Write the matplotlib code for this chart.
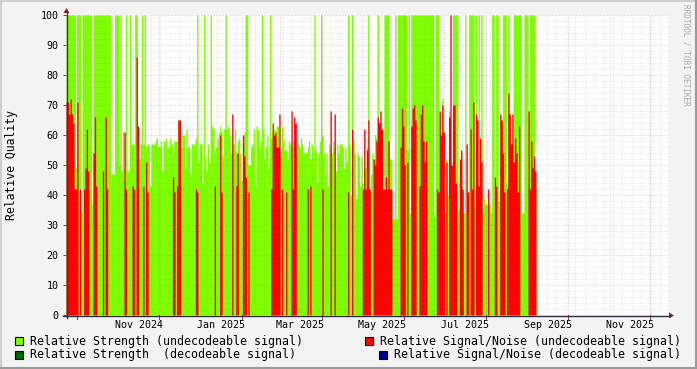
import numpy as np
import matplotlib
matplotlib.use("Agg")
import matplotlib.pyplot as plt
import matplotlib.dates as mdates
from datetime import datetime, timedelta

# ---------- data (one value per day, first day 2024-09-23) ----------
first_day = datetime(2024, 9, 23)

strength = [
    100, 100, 100, 100, 100, 100, 100, 49, 100, 100,
    100, 34, 100, 100, 100, 100, 100, 100, 100, 37,
    100, 100, 100, 100, 100, 100, 100, 100, 100, 100,
    100, 100, 100, 47, 47, 47, 100, 100, 100, 50,
    100, 48, 61, 45, 100, 48, 48, 100, 57, 57,
    57, 100, 100, 52, 52, 57, 100, 57, 100, 56,
    57, 57, 43, 57, 57, 57, 58, 59, 56, 56,
    58, 48, 58, 58, 59, 56, 56, 59, 57, 54,
    58, 58, 58, 65, 65, 56, 60, 60, 49, 62,
    56, 56, 47, 57, 57, 57, 59, 100, 51, 57,
    57, 44, 100, 53, 48, 57, 51, 100, 63, 62,
    54, 56, 59, 61, 63, 61, 53, 62, 100, 62,
    63, 60, 54, 57, 57, 62, 54, 58, 59, 54,
    45, 57, 61, 100, 100, 50, 50, 56, 57, 62,
    43, 63, 62, 56, 58, 100, 62, 52, 56, 60,
    49, 100, 59, 61, 62, 58, 63, 63, 54, 53,
    63, 58, 55, 55, 52, 58, 57, 56, 58, 56,
    54, 57, 57, 56, 59, 57, 54, 54, 54, 56,
    58, 52, 57, 54, 100, 55, 44, 54, 58, 100,
    60, 54, 47, 54, 43, 57, 56, 54, 58, 56,
    48, 57, 54, 57, 57, 56, 49, 56, 51, 100,
    57, 40, 100, 58, 54, 39, 54, 53, 43, 53,
    44, 49, 49, 56, 100, 36, 47, 54, 52, 60,
    59, 100, 40, 64, 62, 34, 100, 100, 100, 100,
    52, 52, 32, 32, 100, 32, 100, 100, 100, 100,
    100, 100, 100, 55, 100, 34, 100, 100, 100, 100,
    100, 100, 100, 100, 100, 100, 100, 100, 100, 100,
    100, 100, 100, 33, 100, 100, 100, 36, 36, 72,
    36, 34, 52, 40, 68, 34, 40, 100, 100, 100,
    100, 35, 45, 45, 34, 34, 100, 34, 34, 100,
    100, 100, 100, 36, 100, 36, 100, 39, 100, 34,
    39, 37, 37, 37, 37, 34, 100, 100, 34, 100,
    100, 38, 50, 41, 100, 100, 100, 44, 100, 43,
    44, 45, 100, 100, 100, 100, 100, 100, 34, 34,
    100, 100, 100, 44, 100, 100, 100, 100, 45,
]

snr = [
    71, 71, 67, 72, 67, 64, 42, 42, 71, 0,
    42, 0, 0, 42, 49, 62, 48, 0, 0, 0,
    54, 66, 43, 0, 0, 0, 0, 48, 0, 66,
    42, 0, 0, 0, 0, 0, 0, 0, 0, 0,
    0, 0, 0, 61, 42, 0, 0, 0, 0, 43,
    42, 0, 86, 63, 0, 0, 0, 43, 0, 51,
    41, 0, 0, 0, 0, 0, 0, 0, 0, 0,
    0, 0, 0, 0, 0, 0, 0, 0, 0, 46,
    41, 0, 43, 65, 65, 0, 0, 0, 0, 0,
    0, 0, 0, 0, 0, 0, 42, 41, 0, 0,
    0, 0, 0, 0, 0, 0, 0, 0, 0, 0,
    43, 0, 0, 0, 60, 41, 0, 0, 0, 0,
    0, 0, 0, 67, 0, 0, 43, 54, 0, 0,
    0, 60, 53, 46, 0, 41, 0, 0, 0, 0,
    0, 0, 0, 0, 0, 0, 0, 0, 0, 0,
    0, 0, 42, 64, 60, 61, 56, 56, 67, 0,
    42, 0, 0, 41, 0, 0, 0, 68, 42, 66,
    64, 0, 0, 0, 0, 0, 0, 0, 0, 42,
    0, 43, 0, 0, 0, 0, 0, 0, 0, 0,
    42, 0, 0, 0, 0, 0, 68, 0, 0, 67,
    0, 0, 0, 0, 0, 0, 0, 0, 0, 41,
    0, 0, 62, 0, 0, 0, 0, 0, 0, 0,
    42, 62, 42, 55, 65, 42, 0, 0, 52, 50,
    58, 66, 64, 68, 62, 42, 42, 46, 42, 58,
    42, 42, 0, 0, 0, 0, 0, 0, 56, 69,
    63, 50, 0, 51, 0, 0, 63, 69, 70, 65,
    0, 0, 43, 67, 70, 58, 51, 58, 0, 0,
    0, 0, 0, 0, 0, 42, 41, 68, 60, 70,
    61, 0, 51, 0, 66, 100, 50, 70, 70, 44,
    0, 0, 52, 55, 42, 0, 0, 57, 41, 0,
    62, 42, 71, 0, 67, 65, 43, 59, 51, 0,
    0, 0, 0, 42, 0, 0, 0, 0, 46, 43,
    0, 0, 67, 65, 54, 41, 0, 42, 74, 67,
    57, 67, 51, 59, 54, 41, 63, 0, 0, 0,
    0, 0, 0, 68, 42, 58, 49, 53, 48,
]

legend_left = ["Relative Strength (undecodeable signal)",
               "Relative Strength  (decodeable signal)"]
legend_right = ["Relative Signal/Noise (undecodeable signal)",
                "Relative Signal/Noise (decodeable signal)"]
month_labels = ["Nov 2024", "Jan 2025", "Mar 2025", "May 2025",
                "Jul 2025", "Sep 2025", "Nov 2025"]

# ---------- figure ----------
W, H = 697, 369
plt.rcParams["lines.scale_dashes"] = False
mono = "DejaVu Sans Mono"

fig = plt.figure(figsize=(W / 100, H / 100), dpi=100)
fig.patch.set_facecolor("#F3F3F3")

ax = fig.add_axes([66 / W, 54 / H, 602 / W, 300 / H])
ax.set_facecolor("white")

x0 = mdates.date2num(first_day)
n = len(strength)
edges = x0 + np.arange(n + 1)
g = np.append(strength, strength[-1])
r = np.append(snr, snr[-1])

ax.fill_between(edges, 0, g, step="post", color="#80FF00", lw=0, zorder=2)
ax.fill_between(edges, 0, r, step="post", color="#FF0000", lw=0, zorder=2.1)

xmin = x0
xmax = x0 + 447
ax.set_xlim(xmin, xmax)
ax.set_ylim(0, 100)

# grid (dotted, drawn over the data like rrdtool does)
minor_c = (0.55, 0.55, 0.55, 0.28)
major_c = (0.75, 0.2, 0.2, 0.32)
dots = (0.72, 1.44)
for v in range(2, 101, 2):
    ax.axhline(v, color=major_c if v % 10 == 0 else minor_c, lw=0.72,
               dashes=dots, zorder=3)
d = first_day + timedelta(days=7)
while mdates.date2num(d) < xmax:
    ax.axvline(mdates.date2num(d), color=minor_c, lw=0.72,
               dashes=dots, zorder=3)
    d += timedelta(days=7)
month_starts = []
for y, m in [(2024, 10), (2024, 11), (2024, 12)] + [(2025, k) for k in range(1, 13)]:
    month_starts.append(datetime(y, m, 1))
for ms in month_starts:
    ax.axvline(mdates.date2num(ms), color=major_c, lw=0.72,
               dashes=dots, zorder=3)

for s in ax.spines.values():
    s.set_visible(False)
ax.set_xticks([])
ax.set_yticks(range(0, 101, 10))
ax.set_yticklabels([str(v) for v in range(0, 101, 10)], fontsize=7.2,
                   family=mono)
ax.tick_params(axis="y", length=2, width=0.72, color="#A03030", pad=3.5)

# x labels at mid month, ticks every two months
for i, lab in enumerate(month_labels):
    mm = 11 + 2 * i
    yy = 2024 + (mm - 1) // 12
    mm = (mm - 1) % 12 + 1
    xm = mdates.date2num(datetime(yy, mm, 16))
    ax.text(xm, -0.032, lab, transform=ax.get_xaxis_transform(),
            ha="center", va="center", fontsize=7.2, family=mono)
for ms in month_starts[::2]:
    ax.plot([mdates.date2num(ms)] * 2, [0, -0.012], color="#A03030", lw=0.72,
            transform=ax.get_xaxis_transform(), clip_on=False, zorder=4)

# ---------- overlay in pixel coordinates ----------
ov = fig.add_axes([0, 0, 1, 1], zorder=5)
ov.set_xlim(0, W)
ov.set_ylim(H, 0)
ov.axis("off")
ov.patch.set_alpha(0)

# axes lines and arrows
ov.plot([63, 670], [315.5, 315.5], color="#303048", lw=1.0)
ov.plot([66.5, 66.5], [12, 318], color="#303048", lw=1.0)
ov.fill([669, 674, 669], [312.5, 315.5, 318.5], color="#902020", lw=0)
ov.fill([63.5, 66.5, 69.5], [13, 8, 13], color="#902020", lw=0)

# frame shading
ov.plot([0, W], [0.8, 0.8], color="#CFCFCF", lw=1.5)
ov.plot([0.8, 0.8], [0, H], color="#CFCFCF", lw=1.5)
ov.plot([0, W], [H - 1, H - 1], color="#9A9A9A", lw=1.5)
ov.plot([W - 1, W - 1], [0, H], color="#9A9A9A", lw=1.5)

# y label and watermark
fig.text(12 / W, 1 - 165 / H, "Relative Quality", rotation=90, ha="center",
         va="center", fontsize=8.3, family=mono)
ov.text(686, 4, "RRDTOOL / TOBI OETIKER", rotation=270, ha="center",
        va="top", fontsize=5.6, family=mono, color="#A8A8A8")

# legend
fs = 8.42
ov.add_patch(plt.Rectangle((15, 337), 8, 8, facecolor="#80FF00",
                           edgecolor="black", lw=0.8))
ov.text(30, 341, legend_left[0], va="center", ha="left", fontsize=fs, family=mono)
ov.add_patch(plt.Rectangle((15, 350.5), 8, 8, facecolor="#006400",
                           edgecolor="black", lw=0.8))
ov.text(30, 354.5, legend_left[1], va="center", ha="left", fontsize=fs, family=mono)
ov.add_patch(plt.Rectangle((365, 337), 8, 8, facecolor="#FF0000",
                           edgecolor="black", lw=0.8))
ov.text(380, 341, legend_right[0], va="center", ha="left", fontsize=fs, family=mono)
ov.add_patch(plt.Rectangle((379, 350.5), 8, 8, facecolor="#000090",
                           edgecolor="black", lw=0.8))
ov.text(394, 354.5, legend_right[1], va="center", ha="left", fontsize=fs, family=mono)

fig.savefig("out.png", dpi=100, facecolor=fig.get_facecolor())
plt.close(fig)
